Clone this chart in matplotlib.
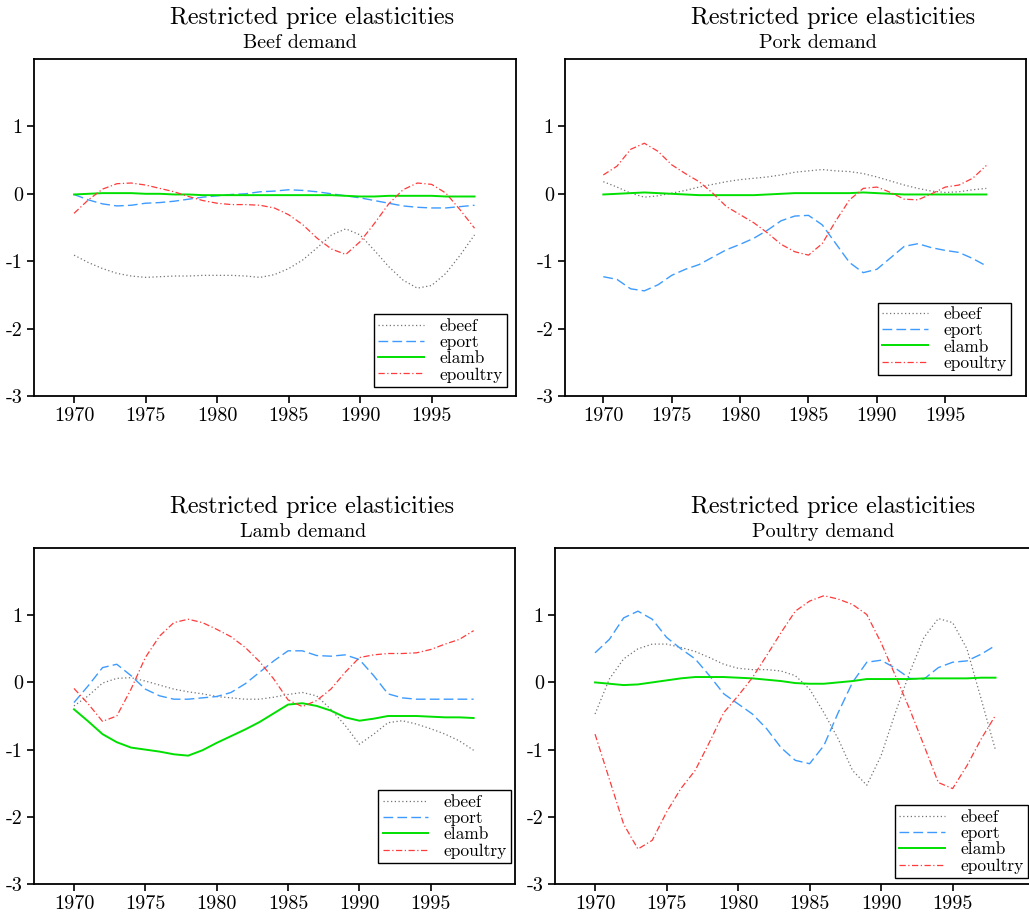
import numpy as np
import matplotlib
matplotlib.use("Agg")
import matplotlib.pyplot as plt

plt.rcParams["font.family"] = ["cmr10", "DejaVu Serif"]
plt.rcParams["mathtext.fontset"] = "cm"
plt.rcParams["axes.unicode_minus"] = False
plt.rcParams["axes.formatter.use_mathtext"] = False

# ========= data =========
years = list(range(1970, 1999))

# Beef demand
beef_ebeef = [-0.91, -1.02, -1.11, -1.18, -1.22, -1.24, -1.23, -1.22, -1.22, -1.21, -1.21, -1.21,
              -1.22, -1.24, -1.20, -1.11, -0.98, -0.80, -0.61, -0.52, -0.61, -0.84, -1.08, -1.28,
              -1.40, -1.36, -1.18, -0.91, -0.61]
beef_eport = [-0.01, -0.09, -0.15, -0.18, -0.17, -0.14, -0.13, -0.11, -0.08, -0.05, -0.03, -0.01,
              0.00, 0.03, 0.04, 0.06, 0.05, 0.03, 0.00, -0.03, -0.06, -0.10, -0.14, -0.18,
              -0.20, -0.21, -0.21, -0.19, -0.17]
beef_elamb = [-0.01, 0.00, 0.01, 0.01, 0.01, 0.00, 0.00, -0.01, -0.01, -0.02, -0.02, -0.02,
              -0.02, -0.02, -0.02, -0.02, -0.02, -0.02, -0.02, -0.03, -0.04, -0.04, -0.03, -0.03,
              -0.03, -0.03, -0.04, -0.04, -0.04]
beef_epoultry = [-0.29, -0.09, 0.07, 0.15, 0.16, 0.13, 0.08, 0.03, -0.04, -0.10, -0.14, -0.16,
                 -0.16, -0.17, -0.21, -0.31, -0.46, -0.66, -0.82, -0.90, -0.71, -0.44, -0.15, 0.06,
                 0.16, 0.14, 0.01, -0.24, -0.51]

# Pork demand
pork_ebeef = [0.18, 0.10, 0.01, -0.05, -0.03, 0.01, 0.05, 0.10, 0.14, 0.18, 0.21, 0.23,
              0.25, 0.28, 0.32, 0.34, 0.36, 0.34, 0.33, 0.30, 0.25, 0.19, 0.13, 0.08,
              0.04, 0.02, 0.03, 0.06, 0.08]
pork_eport = [-1.23, -1.27, -1.41, -1.44, -1.35, -1.21, -1.12, -1.05, -0.94, -0.83, -0.75, -0.66,
              -0.54, -0.40, -0.33, -0.32, -0.46, -0.74, -1.02, -1.17, -1.12, -0.95, -0.78, -0.74,
              -0.80, -0.84, -0.87, -0.96, -1.07]
pork_elamb = [-0.01, 0.00, 0.01, 0.02, 0.01, 0.00, -0.01, -0.02, -0.02, -0.02, -0.02, -0.02,
              -0.01, 0.00, 0.01, 0.01, 0.01, 0.01, 0.01, 0.02, 0.01, 0.00, -0.01, -0.01,
              -0.01, -0.01, -0.01, -0.01, -0.01]
pork_epoultry = [0.28, 0.41, 0.66, 0.75, 0.63, 0.43, 0.30, 0.18, 0.01, -0.19, -0.31, -0.43,
                 -0.58, -0.75, -0.86, -0.91, -0.74, -0.40, -0.09, 0.08, 0.10, 0.02, -0.08, -0.09,
                 0.00, 0.10, 0.13, 0.23, 0.42]

# Lamb demand
lamb_ebeef = [-0.35, -0.20, -0.01, 0.06, 0.07, 0.02, -0.04, -0.10, -0.14, -0.17, -0.21, -0.23,
              -0.25, -0.25, -0.22, -0.18, -0.15, -0.20, -0.40, -0.64, -0.92, -0.77, -0.60, -0.57,
              -0.62, -0.69, -0.77, -0.87, -1.01]
lamb_eport = [-0.30, -0.05, 0.22, 0.27, 0.10, -0.10, -0.20, -0.25, -0.25, -0.23, -0.21, -0.15,
              -0.02, 0.15, 0.32, 0.47, 0.47, 0.40, 0.39, 0.41, 0.34, 0.10, -0.17, -0.23,
              -0.25, -0.25, -0.25, -0.25, -0.25]
lamb_elamb = [-0.40, -0.58, -0.77, -0.89, -0.97, -1.00, -1.03, -1.07, -1.09, -1.01, -0.90, -0.80,
              -0.70, -0.59, -0.46, -0.33, -0.31, -0.35, -0.42, -0.52, -0.57, -0.54, -0.50, -0.50,
              -0.50, -0.51, -0.52, -0.52, -0.53]
lamb_epoultry = [-0.09, -0.32, -0.58, -0.50, -0.10, 0.37, 0.69, 0.89, 0.94, 0.89, 0.79, 0.68,
                 0.52, 0.31, 0.05, -0.26, -0.36, -0.27, -0.10, 0.15, 0.37, 0.41, 0.43, 0.43,
                 0.44, 0.49, 0.57, 0.64, 0.77]

# Poultry demand
poultry_ebeef = [-0.47, 0.05, 0.35, 0.50, 0.57, 0.57, 0.52, 0.46, 0.37, 0.27, 0.21, 0.19,
                 0.19, 0.17, 0.10, -0.10, -0.45, -0.84, -1.31, -1.53, -1.09, -0.45, 0.15, 0.67,
                 0.95, 0.89, 0.50, -0.25, -1.01]
poultry_eport = [0.44, 0.64, 0.96, 1.06, 0.94, 0.67, 0.50, 0.35, 0.10, -0.17, -0.32, -0.47,
                 -0.69, -0.97, -1.16, -1.21, -0.94, -0.45, 0.00, 0.30, 0.33, 0.21, 0.06, 0.05,
                 0.22, 0.30, 0.32, 0.42, 0.55]
poultry_elamb = [0.00, -0.02, -0.04, -0.03, 0.00, 0.03, 0.06, 0.08, 0.08, 0.08, 0.07, 0.06,
                 0.04, 0.02, -0.01, -0.02, -0.02, 0.00, 0.02, 0.05, 0.05, 0.05, 0.05, 0.06,
                 0.06, 0.06, 0.06, 0.07, 0.07]
poultry_epoultry = [-0.77, -1.44, -2.11, -2.48, -2.35, -1.93, -1.58, -1.31, -0.89, -0.45, -0.20, 0.07,
                    0.40, 0.74, 1.06, 1.21, 1.29, 1.24, 1.16, 1.01, 0.59, 0.10, -0.40, -0.94,
                    -1.49, -1.58, -1.24, -0.84, -0.49]

subtitles = ["Beef demand", "Pork demand", "Lamb demand", "Poultry demand"]
series_names = ["ebeef", "eport", "elamb", "epoultry"]
panels = [
    [beef_ebeef, beef_eport, beef_elamb, beef_epoultry],
    [pork_ebeef, pork_eport, pork_elamb, pork_epoultry],
    [lamb_ebeef, lamb_eport, lamb_elamb, lamb_epoultry],
    [poultry_ebeef, poultry_eport, poultry_elamb, poultry_epoultry],
]

# ========= layout (pixels measured on the reference) =========
W, H = 1029, 918
# left, top, right, bottom in px
boxes = [(34, 59, 516, 396), (565, 59, 1026, 396),
         (34, 548, 515, 884), (555, 548, 1037, 884)]
title_x = [312, 833, 312, 833]
sub_x = [300, 818, 303, 823]
title_y = [18, 18, 507, 507]
sub_y = [43, 43, 532, 532]
legend_anchor = [(0.981, 0.027), (0.967, 0.062), (0.992, 0.0625), (0.981, 0.018)]

styles = [
    dict(color="0.45", lw=0.9, ls=(0, (1, 2))),
    dict(color="#3d9bff", lw=1.0, ls=(0, (7, 3))),
    dict(color="#00e000", lw=1.4, ls="-"),
    dict(color="#ff3b3b", lw=0.9, ls=(0, (5, 2, 1, 2))),
]

fig = plt.figure(figsize=(W / 100, H / 100), dpi=100)

for i, (l, t, r, b) in enumerate(boxes):
    ax = fig.add_axes([l / W, 1 - b / H, (r - l) / W, (b - t) / H])
    for vals, name, st in zip(panels[i], series_names, styles):
        ax.plot(years, vals, label=name, **st)
    ax.set_xlim(1967.2, 2000.9)
    ax.set_ylim(-3, 2)
    ax.set_xticks([1970, 1975, 1980, 1985, 1990, 1995])
    ax.set_yticks([-3, -2, -1, 0, 1])
    ax.tick_params(direction="out", length=5, width=1.2, labelsize=14.5, pad=3)
    for sp in ax.spines.values():
        sp.set_linewidth(1.3)
    leg = ax.legend(loc="lower right", bbox_to_anchor=legend_anchor[i], fontsize=12.5,
                    frameon=True, fancybox=False, edgecolor="black", framealpha=1,
                    labelspacing=0.05, handlelength=2.6, handletextpad=0.9,
                    borderpad=0.25, borderaxespad=0)
    leg.get_frame().set_linewidth(1.0)

    fig.text(title_x[i] / W, 1 - title_y[i] / H, "Restricted price elasticities",
             ha="center", va="center", fontsize=17.5)
    fig.text(sub_x[i] / W, 1 - sub_y[i] / H, subtitles[i],
             ha="center", va="center", fontsize=14.5)

fig.savefig("out.png", dpi=100)
